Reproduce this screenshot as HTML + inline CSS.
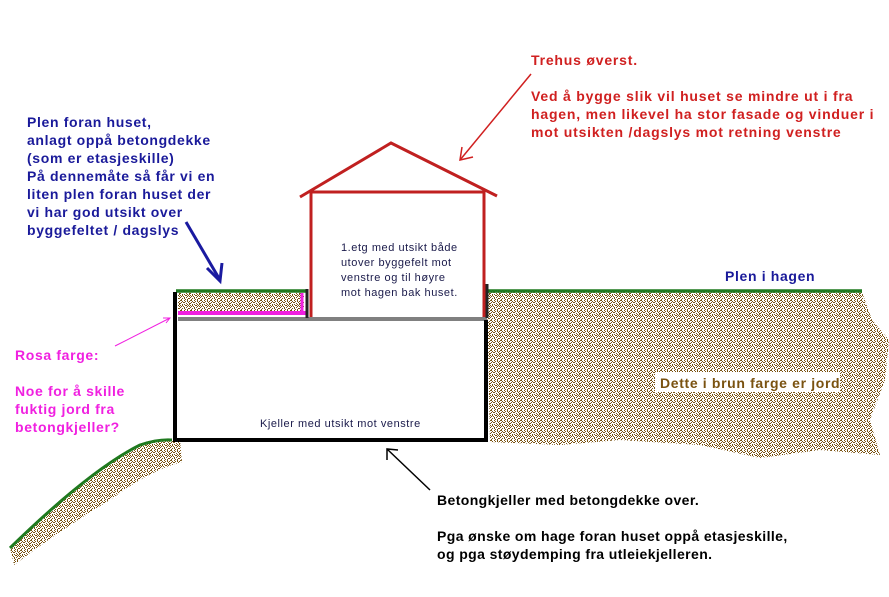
<!DOCTYPE html>
<html><head><meta charset="utf-8"><style>
html,body{margin:0;padding:0;background:#fff;}
body{width:889px;height:597px;position:relative;overflow:hidden;font-family:"Liberation Sans",sans-serif;}
.t{position:absolute;font-weight:bold;font-size:14px;letter-spacing:0.65px;line-height:18px;white-space:nowrap;}
.s{position:absolute;font-size:11px;letter-spacing:0.55px;line-height:15px;color:#1a1a4a;white-space:nowrap;}
</style></head><body>
<svg width="889" height="597" style="position:absolute;left:0;top:0">
<defs>
<pattern id="soil" width="10" height="10" patternUnits="userSpaceOnUse">
<rect width="10" height="10" fill="#fff"/>
<g fill="#7a5210">
<rect x="0" y="0" width="2" height="1"/><rect x="4" y="0" width="1" height="1"/><rect x="7" y="0" width="1" height="2"/>
<rect x="2" y="1" width="1" height="1"/><rect x="5" y="1" width="1" height="1"/><rect x="9" y="1" width="1" height="1"/>
<rect x="1" y="2" width="1" height="1"/><rect x="3" y="2" width="2" height="1"/><rect x="8" y="2" width="1" height="1"/>
<rect x="0" y="3" width="1" height="1"/><rect x="6" y="3" width="1" height="1"/><rect x="9" y="3" width="1" height="2"/>
<rect x="2" y="4" width="1" height="2"/><rect x="4" y="4" width="1" height="1"/><rect x="7" y="4" width="1" height="1"/>
<rect x="0" y="5" width="1" height="1"/><rect x="5" y="5" width="2" height="1"/><rect x="8" y="5" width="1" height="1"/>
<rect x="1" y="6" width="1" height="1"/><rect x="3" y="6" width="1" height="1"/><rect x="7" y="6" width="1" height="1"/><rect x="9" y="6" width="1" height="1"/>
<rect x="0" y="7" width="1" height="1"/><rect x="4" y="7" width="1" height="2"/><rect x="6" y="7" width="1" height="1"/>
<rect x="2" y="8" width="1" height="1"/><rect x="8" y="8" width="2" height="1"/>
<rect x="1" y="9" width="1" height="1"/><rect x="5" y="9" width="1" height="1"/><rect x="7" y="9" width="1" height="1"/>
</g>
</pattern>
</defs>
<path d="M487,292 L862,292 L872,320 L889,340 L885,380 L870,420 L880,455 L820,450 L760,458 L700,445 L620,440 L560,445 L490,442 Z" fill="url(#soil)"/>
<rect x="178" y="293" width="126" height="21" fill="url(#soil)"/>
<path d="M10,548 Q90,470 140,445 Q160,438 180,440 L182,462 Q150,470 110,500 Q60,530 14,565 Z" fill="url(#soil)"/>
<path d="M10,548 Q90,470 140,445 Q158,439 172,440" fill="none" stroke="#1f7a1f" stroke-width="3"/>
<line x1="176" y1="291" x2="306" y2="291" stroke="#1f7a1f" stroke-width="3.5"/>
<line x1="487" y1="291" x2="862" y2="291" stroke="#1f7a1f" stroke-width="3.5"/>
<line x1="178" y1="313" x2="306" y2="313" stroke="#f020e0" stroke-width="4"/>
<line x1="302" y1="293" x2="302" y2="315" stroke="#f020e0" stroke-width="3"/>
<line x1="178" y1="319" x2="487" y2="319" stroke="#808080" stroke-width="4"/>
<path d="M175,292 L175,440 L486,440 L486,320" fill="none" stroke="#000" stroke-width="4"/>
<line x1="307" y1="289" x2="307" y2="318" stroke="#222" stroke-width="3"/>
<line x1="487" y1="284" x2="487" y2="318" stroke="#222" stroke-width="3"/>
<rect x="340" y="239" width="120" height="62" fill="#fff"/>
<rect x="655" y="372" width="185" height="20" fill="#fff"/>
<path d="M311,317 L311,192 L484,192 L484,317" fill="none" stroke="#c02020" stroke-width="3"/>
<path d="M300,197 L391,143 L497,196" fill="none" stroke="#c02020" stroke-width="3"/>
<g stroke="#d02020" stroke-width="1.5" fill="none"><line x1="531" y1="74" x2="460" y2="160"/><path d="M462,147 L460,160 L473,157"/></g>
<g stroke="#1a1aa0" stroke-width="3" fill="none"><line x1="186" y1="222" x2="220" y2="280"/><path d="M207,268 L220,281 L222,263"/></g>
<g stroke="#f020e0" stroke-width="1" fill="none"><line x1="115" y1="346" x2="170" y2="318"/><path d="M163,318 L170,318 L166,323"/></g>
<g stroke="#000" stroke-width="1.5" fill="none"><line x1="430" y1="490" x2="387" y2="449"/><path d="M387,460 L387,449 L398,450"/></g>
</svg>
<div class="t" style="left:27px;top:113px;color:#1a1a9a">Plen foran huset,<br>anlagt oppå betongdekke<br>(som er etasjeskille)<br>På dennemåte så får vi en<br>liten plen foran huset der<br>vi har god utsikt over<br>byggefeltet / dagslys</div>
<div class="t" style="left:531px;top:51px;color:#d02020;letter-spacing:0.8px">Trehus øverst.<br><br>Ved å bygge slik vil huset se mindre ut i fra<br>hagen, men likevel ha stor fasade og vinduer i<br>mot utsikten /dagslys mot retning venstre</div>
<div class="t" style="left:725px;top:267px;color:#1a1a9a">Plen i hagen</div>
<div class="t" style="left:660px;top:374px;color:#7a5210">Dette i brun farge er jord</div>
<div class="t" style="left:15px;top:346px;color:#f020e0">Rosa farge:<br><br>Noe for å skille<br>fuktig jord fra<br>betongkjeller?</div>
<div class="t" style="left:437px;top:491px;color:#000;letter-spacing:0.4px">Betongkjeller med betongdekke over.<br><br>Pga ønske om hage foran huset oppå etasjeskille,<br>og pga støydemping fra utleiekjelleren.</div>
<div class="s" style="left:341px;top:241px">1.etg med utsikt både<br>utover byggefelt mot<br>venstre og til høyre<br>mot hagen bak huset.</div>
<div class="s" style="left:260px;top:417px">Kjeller med utsikt mot venstre</div>
</body></html>
